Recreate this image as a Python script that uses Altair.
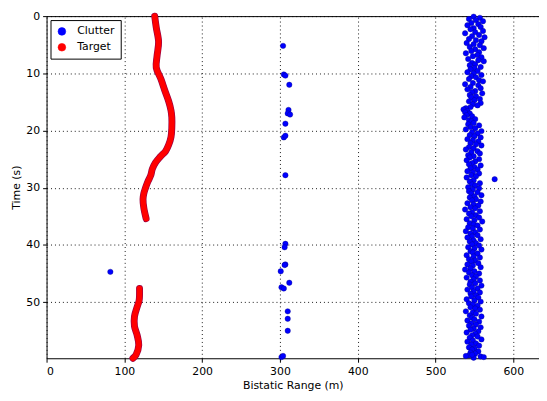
import altair as alt
import pandas as pd

# ---- Target track (red) : two segments ----
target_seg1_t = [0, 2.0, 4.5, 7.0, 9.0, 11.0, 13.0, 14.9, 16.5, 17.7, 19.5, 21.1, 22.5, 23.6, 24.6, 25.6, 26.7, 27.8, 29.0, 30.1, 31.0, 32.0, 33.5, 35.4]
target_seg1_x = [139, 141, 144, 142, 141, 147, 152, 157, 160, 161, 161, 160, 157, 153, 146, 140, 136, 134, 130, 127, 125, 124, 125, 128]
target_seg2_t = [47.6, 49.7, 50.8, 52.5, 54.2, 55.8, 57.5, 59.2, 59.8]
target_seg2_x = [119.5, 119, 116.5, 113, 113, 116.5, 118.5, 115, 111]

# ---- Clutter: sparse column near 300 m, lone point near 80 m ----
clutter_a_t = [5.2, 10.2, 10.4, 12.0, 16.4, 17.0, 17.2, 18.8, 21.2, 20.9, 27.8, 39.8, 40.4, 43.4, 43.5, 44.6, 46.6, 47.4, 47.6, 51.6, 52.9, 55.0, 59.6, 59.4, 44.7]
clutter_a_x = [304, 305, 307, 312, 311, 310, 313, 307, 305, 307, 307, 307, 306, 307, 306, 301, 312, 302, 305, 310, 310, 310, 302, 304, 82]

# ---- Clutter: dense band near 550 m ----
clutter_b_t = [
    0.1, 0.3, 0.5, 0.7, 0.9, 1.2, 1.4, 1.6, 1.9, 2.1,
    2.3, 2.6, 2.8, 3.0, 3.3, 3.5, 3.7, 4.0, 4.2, 4.4,
    4.7, 4.9, 5.1, 5.4, 5.6, 5.8, 6.1, 6.3, 6.5, 6.8,
    7.0, 7.2, 7.5, 7.7, 7.9, 8.2, 8.4, 8.6, 8.9, 9.1,
    9.3, 9.6, 9.8, 10.0, 10.3, 10.5, 10.7, 11.0, 11.2, 11.4,
    11.7, 11.9, 12.1, 12.4, 12.6, 12.8, 13.1, 13.3, 13.5, 13.8,
    14.0, 14.2, 14.5, 14.7, 14.9, 15.2, 15.4, 15.6, 15.9, 16.1,
    16.3, 16.6, 16.8, 17.0, 17.3, 17.5, 17.7, 18.0, 18.2, 18.4,
    18.7, 18.9, 19.1, 19.4, 19.6, 19.8, 20.1, 20.3, 20.5, 20.8,
    21.0, 21.2, 21.5, 21.7, 21.9, 22.2, 22.4, 22.6, 22.9, 23.1,
    23.3, 23.6, 23.8, 24.0, 24.3, 24.5, 24.7, 25.0, 25.2, 25.4,
    25.7, 25.9, 26.1, 26.4, 26.6, 26.8, 27.1, 27.3, 27.5, 27.8,
    28.0, 28.2, 28.5, 28.7, 28.9, 29.2, 29.4, 29.6, 29.9, 30.1,
    30.3, 30.6, 30.8, 31.0, 31.3, 31.5, 31.7, 32.0, 32.2, 32.4,
    32.7, 32.9, 33.1, 33.4, 33.6, 33.8, 34.1, 34.3, 34.5, 34.8,
    35.0, 35.2, 35.5, 35.7, 35.9, 36.2, 36.4, 36.6, 36.9, 37.1,
    37.3, 37.6, 37.8, 38.0, 38.3, 38.5, 38.7, 39.0, 39.2, 39.4,
    39.7, 39.9, 40.1, 40.4, 40.6, 40.8, 41.1, 41.3, 41.5, 41.8,
    42.0, 42.2, 42.5, 42.7, 42.9, 43.2, 43.4, 43.6, 43.9, 44.1,
    44.3, 44.6, 44.8, 45.0, 45.3, 45.5, 45.7, 46.0, 46.2, 46.4,
    46.7, 46.9, 47.1, 47.4, 47.6, 47.8, 48.1, 48.3, 48.5, 48.8,
    49.0, 49.2, 49.5, 49.7, 49.9, 50.2, 50.4, 50.6, 50.9, 51.1,
    51.3, 51.6, 51.8, 52.0, 52.3, 52.5, 52.7, 53.0, 53.2, 53.4,
    53.7, 53.9, 54.1, 54.4, 54.6, 54.8, 55.1, 55.3, 55.5, 55.8,
    56.0, 56.2, 56.5, 56.7, 56.9, 57.2, 57.4, 57.6, 57.9, 58.1,
    58.3, 58.6, 58.8, 59.0, 59.3, 59.5, 59.7, 59.4, 59.6, 59.2,
]
clutter_b_x = [
    549, 557, 543, 552, 561, 546, 555, 541, 558, 549,
    545, 561, 551, 538, 556, 547, 563, 543, 552, 559,
    540, 549, 557, 544, 562, 551, 546, 556, 539, 554,
    548, 559, 542, 555, 562, 547, 551, 544, 558, 550,
    545, 554, 541, 549, 559, 546, 552, 543, 556, 561,
    548, 538, 555, 545, 558, 541, 551, 547, 560, 544,
    552, 546, 557, 550, 543, 558, 548, 554, 545, 539,
    536, 541, 538, 544, 540, 547, 537, 551, 543, 546,
    549, 542, 556, 545, 551, 539, 559, 547, 554, 544,
    550, 558, 541, 548, 555, 545, 552, 559, 543, 549,
    539, 554, 546, 557, 542, 549, 544, 556, 540, 551,
    547, 543, 558, 550, 545, 554, 541, 548, 556, 546,
    552, 540, 576, 549, 544, 557, 547, 551, 542, 556,
    548, 543, 554, 546, 559, 550, 544, 552, 547, 558,
    541, 549, 555, 545, 551, 538, 557, 547, 543, 552,
    546, 556, 540, 550, 560, 544, 549, 554, 542, 548,
    557, 539, 551, 545, 554, 547, 541, 558, 549, 544,
    552, 547, 556, 542, 550, 559, 545, 548, 554, 540,
    549, 557, 543, 551, 546, 555, 541, 548, 558, 545,
    538, 550, 543, 556, 547, 552, 540, 549, 557, 545,
    551, 544, 559, 547, 554, 541, 549, 557, 545, 552,
    546, 555, 540, 550, 558, 543, 548, 554, 545, 551,
    557, 539, 548, 552, 544, 559, 547, 550, 541, 556,
    546, 552, 543, 558, 549, 545, 555, 540, 551, 547,
    554, 544, 559, 548, 541, 552, 546, 556, 543, 550,
    547, 555, 545, 551, 543, 558, 549, 539, 562, 547,
]

x_ticks = [0, 100, 200, 300, 400, 500, 600]
y_ticks = [0, 10, 20, 30, 40, 50]

# ---- build tables ----
n_b = min(len(clutter_b_t), len(clutter_b_x))
clutter = pd.DataFrame({
    "t": clutter_a_t + clutter_b_t[:n_b],
    "x": clutter_a_x + clutter_b_x[:n_b],
})
clutter["series"] = "Clutter"

target = pd.DataFrame({
    "t": target_seg1_t + target_seg2_t,
    "x": target_seg1_x + target_seg2_x,
    "seg": ["a"] * len(target_seg1_t) + ["b"] * len(target_seg2_t),
})
target["series"] = "Target"
target["order"] = range(len(target))

FONT = "DejaVu Sans"

x_enc = alt.X("x:Q", scale=alt.Scale(domain=[0, 633], nice=False, zero=False),
              axis=alt.Axis(values=x_ticks, title="Bistatic Range (m)"))
y_enc = alt.Y("t:Q", scale=alt.Scale(domain=[0, 59.8], nice=False, reverse=True, zero=False),
              axis=alt.Axis(values=y_ticks, title="Time (s)"))
color_enc = alt.Color("series:N",
                      scale=alt.Scale(domain=["Clutter", "Target"], range=["#0000ff", "#ff0000"]),
                      legend=alt.Legend(title=None, orient="top-left", symbolType="circle",
                                        symbolSize=60, symbolStrokeColor="#000033",
                                        symbolStrokeWidth=0.6,
                                        strokeColor="black", fillColor="white",
                                        padding=6, offset=4, labelFontSize=11,
                                        labelFont=FONT, rowPadding=4, labelOffset=10))

points = alt.Chart(clutter).mark_point(filled=True, size=30, opacity=1,
                                       stroke="#00008b", strokeWidth=0.4).encode(
    x=x_enc, y=y_enc, color=color_enc)

edge = alt.Chart(target).mark_line(strokeWidth=7, color="#9b0040", interpolate="catmull-rom",
                                   strokeCap="round").encode(
    x=x_enc, y=y_enc, detail="seg:N", order="order:Q")

line = alt.Chart(target).mark_line(strokeWidth=5.6, interpolate="catmull-rom",
                                   strokeCap="round", opacity=1).encode(
    x=x_enc, y=y_enc, color=color_enc, detail="seg:N", order="order:Q")

chart = alt.layer(points, edge, line).properties(
    width=498, height=346,
    autosize=alt.AutoSizeParams(type="none"),
    padding={"left": 39, "top": 6, "right": 0, "bottom": 40},
).configure_view(
    stroke="black", strokeWidth=1
).configure_axis(
    grid=True, gridColor="black", gridDash=[1, 3], gridOpacity=0.9, gridWidth=1,
    domain=False, tickColor="black", tickSize=4,
    labelFont=FONT, labelFontSize=11, labelColor="black",
    titleFont=FONT, titleFontSize=11, titleFontWeight="normal", titleColor="black",
    labelPadding=3,
).configure_axisX(titlePadding=4).configure_axisY(titlePadding=4)

chart.save("out.html", embed_options={"renderer": "svg", "actions": False})
